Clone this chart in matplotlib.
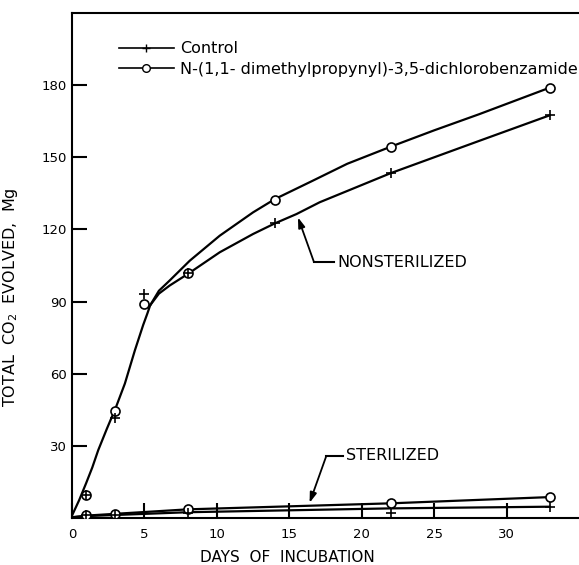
import numpy as np
import matplotlib
matplotlib.use("Agg")
import matplotlib.pyplot as plt
from matplotlib.lines import Line2D

# measured points (days, mg CO2)
days = [1, 3, 5, 8, 14, 22, 33]
nonster_control = [9.5, 41.4, 93.0, 101.8, 122.5, 143.4, 167.5]
nonster_treated = [9.5, 44.5, 89.1, 101.8, 132.2, 154.4, 179.0]
ster_days = [1, 3, 8, 22, 33]
ster_control = [1.2, 1.2, 2.0, 2.2, 4.7]
ster_treated = [1.2, 1.6, 3.7, 6.1, 8.8]

# hand drawn curves
curve_early_days = [0, 0.5, 0.97, 1.4, 1.81, 2.4, 3.03, 3.65, 4.34, 4.91, 5.2, 5.4]
curve_early_vals = [1.0, 7.5, 14.4, 21.0, 28.2, 37.0, 46.0, 55.9, 69.7, 80.2, 85.0, 88.5]
curve_treated_days = [5.4, 6.0, 6.75, 8.13, 10.2, 12.5, 14.0, 16.6, 19.0, 22.0, 25.0, 28.1, 33.0]
curve_treated_vals = [88.5, 94.5, 98.8, 107.0, 117.4, 127.1, 132.6, 140.2, 147.3, 154.4, 161.2, 167.9, 179.0]
curve_control_days = [5.4, 6.0, 6.75, 8.0, 10.2, 12.5, 14.0, 15.5, 17.1, 22.0, 28.1, 33.0]
curve_control_vals = [88.5, 93.3, 96.7, 101.5, 110.5, 118.1, 122.5, 126.4, 131.3, 143.4, 156.8, 167.5]
ster_line_days = [0, 1, 8, 22, 33]
ster_line_upper = [0.3, 1.0, 3.6, 6.1, 8.7]
ster_line_lower = [0.3, 0.8, 2.4, 4.0, 4.7]

fig = plt.figure(figsize=(5.79, 5.65), dpi=100)
ax = fig.add_axes([72 / 579, 47 / 565, 507 / 579, 505 / 565])

lw = 1.6
for xs, ys in [(curve_early_days, curve_early_vals),
               (curve_treated_days, curve_treated_vals),
               (curve_control_days, curve_control_vals),
               (ster_line_days, ster_line_upper),
               (ster_line_days, ster_line_lower)]:
    ax.plot(xs, ys, color="k", lw=lw, solid_joinstyle="round", solid_capstyle="round")

ax.plot(days, nonster_treated, "o", ms=6.5, mfc="white", mec="k", mew=1.2, zorder=3)
ax.plot(ster_days, ster_treated, "o", ms=6.5, mfc="white", mec="k", mew=1.2, zorder=3)
ax.plot(days, nonster_control, "+", ms=7, mec="k", mew=1.2, zorder=4)
ax.plot(ster_days, ster_control, "+", ms=7, mec="k", mew=1.2, zorder=4)

# labels with elbow arrows
ax.text(18.3, 106.3, "NONSTERILIZED", fontsize=11.5, va="center", ha="left")
ax.plot([16.7, 18.1], [106.5, 106.5], color="k", lw=1.5)
ax.annotate("", xy=(15.6, 125.0), xytext=(16.7, 106.5),
            arrowprops=dict(arrowstyle="-|>,head_length=0.6,head_width=0.2",
                            color="k", lw=1.3, shrinkA=0, shrinkB=0))
ax.text(18.9, 25.9, "STERILIZED", fontsize=11.5, va="center", ha="left")
ax.plot([17.55, 18.7], [25.7, 25.7], color="k", lw=1.5)
ax.annotate("", xy=(16.4, 6.3), xytext=(17.55, 25.7),
            arrowprops=dict(arrowstyle="-|>,head_length=0.6,head_width=0.2",
                            color="k", lw=1.3, shrinkA=0, shrinkB=0))

handles = [
    Line2D([], [], color="k", lw=1.2, marker="+", ms=6, mew=1.0),
    Line2D([], [], color="k", lw=1.2, marker="o", ms=5.5, mfc="white", mew=1.0),
]
ax.legend(handles, ["Control", "N-(1,1- dimethylpropynyl)-3,5-dichlorobenzamide"],
          loc="upper left", bbox_to_anchor=(0.0927, 0.944), frameon=False,
          fontsize=11.5, handlelength=3.42, handletextpad=0.4, labelspacing=0.36,
          borderaxespad=0, borderpad=0)

ax.set_xlim(0, 35)
ax.set_ylim(0, 210)
ax.set_xticks([0, 5, 10, 15, 20, 25, 30])
ax.set_yticks([30, 60, 90, 120, 150, 180])
ax.tick_params(direction="in", length=11, width=1.5, labelsize=9.5)
ax.tick_params(axis="x", pad=7)
ax.tick_params(axis="y", pad=4)
for s in ["left", "bottom", "top"]:
    ax.spines[s].set_linewidth(1.5)
ax.spines["right"].set_visible(False)

ax.set_xlabel("DAYS  OF  INCUBATION", fontsize=11)
ax.xaxis.set_label_coords(0.424, -0.064)
ax.set_ylabel("TOTAL  CO$_2$  EVOLVED,  Mg", fontsize=11.5)
ax.yaxis.set_label_coords(-0.103, 0.437)

fig.savefig("out.png", dpi=100)
